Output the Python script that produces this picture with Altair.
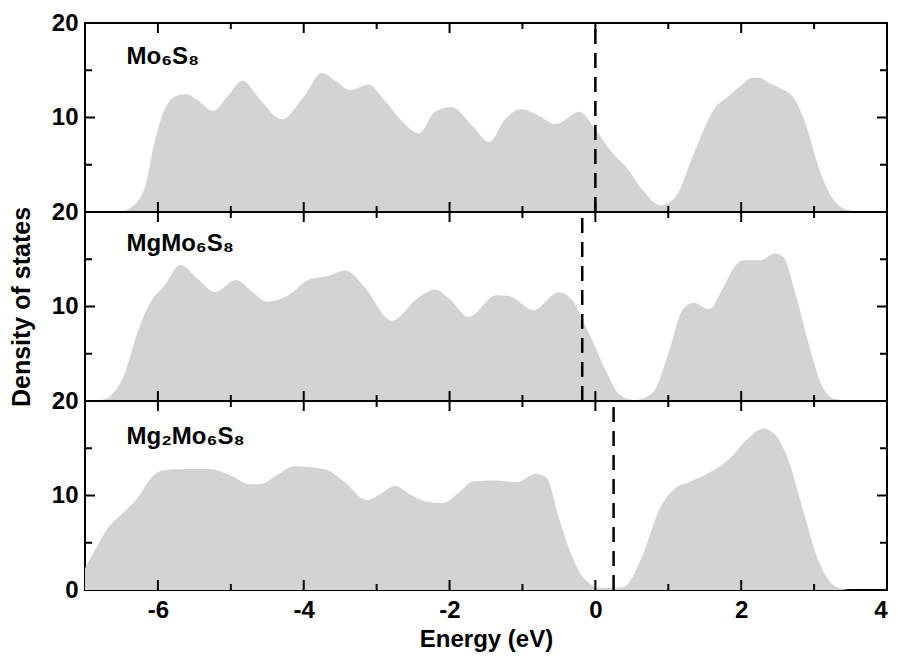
import altair as alt
import pandas as pd

# ---- data ----
energy_mo6s8 = [-7, -6.55, -6.37, -6.18, -6.04, -5.91, -5.77, -5.62, -5.45, -5.25, -5.05, -4.84, -4.6,
                -4.30, -4.0, -3.75, -3.55, -3.37, -3.11, -2.9, -2.65, -2.42, -2.2, -1.97, -1.7, -1.45,
                -1.25, -1.02, -0.8, -0.54, -0.22, 0, 0.24, 0.42, 0.65, 0.90, 1.10, 1.33, 1.65, 1.82,
                2.0, 2.15, 2.24, 2.4, 2.56, 2.71, 2.88, 3.06, 3.24, 3.47, 3.7, 4]
dos_mo6s8 = [0, 0, 0.5, 2.6, 7.6, 10.8, 12.2, 12.5, 11.8, 10.7, 12.2, 13.9, 11.9,
             9.8, 12.2, 14.7, 13.8, 12.9, 13.5, 11.9, 9.6, 8.3, 10.6, 11.1, 9.2, 7.4,
             9.7, 10.9, 10.3, 9.3, 10.6, 8.7, 6.2, 4.8, 2.3, 0.7, 1.6, 5.8, 11.1, 12.2,
             13.4, 14.2, 14.2, 13.6, 13.0, 12.2, 9.4, 4.8, 1.6, 0.2, 0, 0]

energy_mgmo6s8 = [-7, -6.85, -6.73, -6.45, -6.28, -6.10, -5.91, -5.69, -5.45, -5.22, -4.93, -4.70,
                  -4.50, -4.23, -3.91, -3.68, -3.43, -3.18, -2.79, -2.45, -2.2, -2.0, -1.74, -1.36,
                  -1.18, -0.85, -0.50, -0.30, -0.20, -0.03, 0.15, 0.33, 0.55, 0.79, 1.01, 1.20,
                  1.35, 1.56, 1.74, 1.92, 2.02, 2.26, 2.47, 2.58, 2.74, 2.92, 3.11, 3.29, 3.5, 4]
dos_mgmo6s8 = [0, 0, 0.2, 3.0, 7.3, 10.5, 12.2, 14.4, 12.9, 11.5, 12.8, 11.5,
               10.5, 11.1, 12.9, 13.2, 13.8, 12.2, 8.5, 10.8, 11.8, 10.8, 8.9, 11.2,
               11.1, 9.6, 11.5, 10.5, 9.0, 6.2, 3.1, 0.7, 0.1, 0.9, 5.2, 9.7,
               10.4, 9.7, 11.8, 14.3, 14.9, 14.9, 15.6, 15.2, 11.5, 6.2, 1.6, 0.2, 0, 0]

energy_mg2mo6s8 = [-7, -6.87, -6.69, -6.46, -6.28, -6.10, -5.91, -5.6, -5.28, -5.0, -4.73, -4.6,
                   -4.36, -4.13, -3.82, -3.68, -3.45, -3.13, -2.96, -2.75, -2.54, -2.34, -2.1,
                   -1.86, -1.67, -1.36, -1.08, -0.81, -0.67, -0.50, -0.31, -0.13, 0.10, 0.38,
                   0.65, 0.87, 1.10, 1.28, 1.56, 1.83, 2.06, 2.31, 2.47, 2.65, 2.84, 3.06, 3.29, 3.5, 4]
dos_mg2mo6s8 = [2.3, 4.1, 6.5, 8.3, 9.7, 11.8, 12.7, 12.8, 12.8, 12.1, 11.2, 11.2,
                12.2, 13.1, 12.9, 12.7, 11.5, 9.5, 10.1, 11.0, 10.1, 9.4, 9.2,
                10.4, 11.5, 11.6, 11.4, 12.3, 11.9, 7.6, 3.4, 1.0, 0.2, 0.3,
                3.7, 8.4, 10.8, 11.4, 12.4, 13.8, 15.8, 17.1, 16.4, 13.7, 8.7, 3.1, 0.4, 0, 0]

compounds = ["Mo₆S₈", "MgMo₆S₈", "Mg₂Mo₆S₈"]
fermi_levels = [0.0, -0.18, 0.25]

x_major_ticks = [-6, -4, -2, 0, 2, 4]
x_minor_ticks = [-5, -3, -1, 1, 3]
y_major_ticks = [10]
y_minor_ticks = [5, 15]

FONT = "Liberation Sans"
W, H = 802, 189
MAJOR, MINOR = 10, 6


def panel(energy, dos, ef, label, label_y, y_labels, bottom, ytitle):
    df = pd.DataFrame({"E": energy, "DOS": dos})
    one = pd.DataFrame({"ef": [ef], "label": [label]})
    xs = alt.Scale(domain=[-7, 4], nice=False, zero=False)
    ys = alt.Scale(domain=[0, 20], nice=False, zero=False)

    x_axis = alt.Axis(values=x_major_ticks, ticks=False, domain=False, grid=False,
                      labels=bottom, labelPadding=8, labelFlush=True, format="d",
                      labelExpr="replace(datum.label, '\u2212', '-')",
                      title="Energy (eV)" if bottom else None, titleFontSize=24, titlePadding=5)
    y_axis = alt.Axis(values=y_labels, ticks=False, domain=False, grid=False, labelPadding=7,
                      format="d",
                      title="Density of states" if ytitle else None,
                      titleFontSize=25, titlePadding=17)

    area = alt.Chart(df).mark_area(color="#d3d3d3", interpolate="monotone", clip=True).encode(
        x=alt.X("E:Q", scale=xs, axis=x_axis),
        y=alt.Y("DOS:Q", scale=ys, axis=y_axis),
    )
    fermi = alt.Chart(one).mark_rule(color="black", strokeWidth=2.5, strokeDash=[15, 9]).encode(
        x=alt.X("ef:Q", scale=xs),
        y=alt.YDatum(0, type="quantitative", scale=ys),
        y2=alt.Y2Datum(20),
    )
    text = alt.Chart(one).mark_text(
        align="left", baseline="alphabetic", font=FONT, fontSize=24, fontWeight="bold", color="black"
    ).encode(
        x=alt.XDatum(-6.43, type="quantitative", scale=xs),
        y=alt.YDatum(label_y, type="quantitative", scale=ys),
        text=alt.Text("label:N"),
    )

    def xticks(values, length, top):
        base = alt.Chart(pd.DataFrame({"t": values})).mark_rule(color="black", strokeWidth=2)
        if top:
            return base.encode(x=alt.X("t:Q", scale=xs), y=alt.value(0), y2=alt.value(length))
        return base.encode(x=alt.X("t:Q", scale=xs), y=alt.value(H), y2=alt.value(H - length))

    def yticks(values, length, right):
        base = alt.Chart(pd.DataFrame({"t": values})).mark_rule(color="black", strokeWidth=2)
        if right:
            return base.encode(y=alt.Y("t:Q", scale=ys), x=alt.value(W), x2=alt.value(W - length))
        return base.encode(y=alt.Y("t:Q", scale=ys), x=alt.value(0), x2=alt.value(length))

    ticks = [
        xticks(x_major_ticks[:-1], MAJOR, False), xticks(x_major_ticks[:-1], MAJOR, True),
        xticks(x_minor_ticks, MINOR, False), xticks(x_minor_ticks, MINOR, True),
        yticks(y_major_ticks, MAJOR, False), yticks(y_major_ticks, MAJOR, True),
        yticks(y_minor_ticks, MINOR + 1, False), yticks(y_minor_ticks, MINOR + 1, True),
    ]
    return alt.layer(area, fermi, text, *ticks).properties(width=W, height=H)


p1 = panel(energy_mo6s8, dos_mo6s8, fermi_levels[0], compounds[0], 15.7, [10, 20], False, False)
p2 = panel(energy_mgmo6s8, dos_mgmo6s8, fermi_levels[1], compounds[1], 15.9, [10, 20], False, True)
p3 = panel(energy_mg2mo6s8, dos_mg2mo6s8, fermi_levels[2], compounds[2], 15.4, [0, 10, 20], True, False)

chart = alt.vconcat(p1, p2, p3, spacing=0, bounds="flush").properties(
    padding={"left": 0, "top": 2, "right": 0, "bottom": 0},
    background="white",
).configure_view(
    stroke="black", strokeWidth=2
).configure_axis(
    labelFont=FONT, labelFontSize=24, labelFontWeight="bold", labelColor="black",
    titleFont=FONT, titleFontWeight="bold", titleColor="black",
)

chart.save("out.html", embed_options={"renderer": "svg", "actions": False})
